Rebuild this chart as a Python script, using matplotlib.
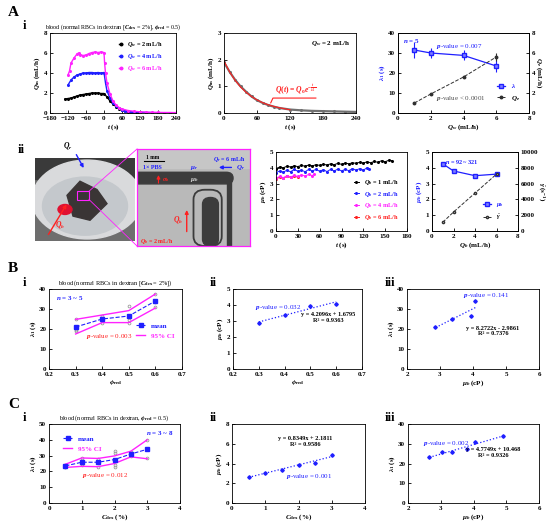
import numpy as np
import matplotlib
matplotlib.use('Agg')
import matplotlib.pyplot as plt
from matplotlib.patches import Ellipse, Rectangle, FancyBboxPatch, Polygon
from matplotlib.lines import Line2D

plt.rcParams['font.family'] = ['Liberation Serif', 'DejaVu Serif']
plt.rcParams['font.weight'] = 'bold'
plt.rcParams['font.size'] = 5
plt.rcParams['axes.linewidth'] = 0.6
plt.rcParams['axes.labelweight'] = 'bold'
plt.rcParams['xtick.direction'] = 'in'
plt.rcParams['ytick.direction'] = 'in'
plt.rcParams['xtick.major.size'] = 2
plt.rcParams['ytick.major.size'] = 2
plt.rcParams['xtick.major.width'] = 0.6
plt.rcParams['ytick.major.width'] = 0.6
plt.rcParams['xtick.major.pad'] = 2
plt.rcParams['ytick.major.pad'] = 2
plt.rcParams['axes.labelpad'] = 1
plt.rcParams['mathtext.fontset'] = 'custom'
plt.rcParams['mathtext.rm'] = 'Liberation Serif:bold'
plt.rcParams['mathtext.it'] = 'Liberation Serif:bold:italic'
plt.rcParams['mathtext.bf'] = 'Liberation Serif:bold'

BLUE = '#1f1fff'
MAG = '#ff22ff'
RED = '#ff2020'
GREY = '#9a9a9a'

# ---- A-i : inlet flow vs time
t_q2 = [-130, -120, -110, -100, -90, -80, -70, -60, -50, -40, -30, -20, -10, 0,
        10, 20, 30, 40, 50, 60, 70, 80, 90, 100, 110, 120]
q_q2 = [1.4, 1.45, 1.5, 1.6, 1.7, 1.8, 1.85, 1.9, 1.95, 2.0, 2.0, 2.0, 1.95, 1.95,
        1.6, 1.2, 0.9, 0.65, 0.45, 0.32, 0.22, 0.15, 0.1, 0.06, 0.04, 0.03]
t_q4 = [-120, -110, -100, -90, -80, -70, -60, -50, -40, -30, -20, -10, 0, 5,
        10, 20, 30, 40, 50, 60, 70, 80, 90, 100, 120, 140, 160, 180]
q_q4 = [2.8, 3.3, 3.6, 3.8, 3.9, 4.0, 4.0, 4.05, 4.05, 4.0, 4.05, 4.0, 4.05, 3.0,
        2.2, 1.5, 1.0, 0.7, 0.5, 0.35, 0.25, 0.18, 0.13, 0.1, 0.07, 0.05, 0.04, 0.03]
t_q6 = [-120, -115, -110, -100, -90, -85, -80, -70, -60, -50, -40, -30, -20, -10, 0,
        2, 5, 10, 20, 30, 40, 50, 60, 80, 100, 120, 140, 160, 180, 200, 220, 240]
q_q6 = [3.8, 4.2, 5.0, 5.5, 5.9, 6.0, 5.85, 5.75, 5.8, 5.95, 6.05, 6.1, 6.05, 6.1, 6.05,
        5.0, 4.0, 3.0, 1.9, 1.2, 0.8, 0.55, 0.4, 0.25, 0.17, 0.12, 0.09, 0.07, 0.06, 0.05, 0.05, 0.04]

t_dec = [0, 10, 20, 30, 40, 50, 60, 70, 80, 90, 100, 120, 140, 160, 180, 200, 220, 240]
q_dec = [1.9, 1.55, 1.25, 1.0, 0.8, 0.62, 0.48, 0.38, 0.3, 0.24, 0.19, 0.13, 0.1, 0.08, 0.07, 0.06, 0.05, 0.04]
t_fit = [0, 10, 20, 30, 40, 50, 60, 70, 80, 90, 100, 110, 120]
q_fit = [1.95, 1.55, 1.23, 0.98, 0.78, 0.62, 0.49, 0.39, 0.31, 0.25, 0.2, 0.16, 0.12]

qw = [1, 2, 4, 6]
lam_qw = [31.5, 30.0, 28.8, 23.5]
lam_qw_err = [4.0, 2.5, 2.5, 3.0]
qe = [1.0, 1.9, 3.6, 5.6]
qe_err = [0.05, 0.1, 0.1, 0.4]

# ---- A-ii : blood viscosity vs time
t_b1 = list(range(0, 161, 5))
mu_b1 = [3.95, 4.05, 4.0, 4.1, 4.05, 4.12, 4.08, 4.15, 4.1, 4.18, 4.12, 4.2, 4.15, 4.22, 4.18, 4.25, 4.2,
         4.28, 4.22, 4.3, 4.25, 4.32, 4.28, 4.35, 4.3, 4.38, 4.32, 4.4, 4.35, 4.45, 4.38, 4.48, 4.45]
t_b2 = list(range(0, 126, 5)) + [128]
mu_b2 = [3.7, 3.8, 3.72, 3.85, 3.75, 3.9, 3.78, 3.85, 3.75, 3.9, 3.8, 3.9, 3.78, 3.88, 3.76, 3.9,
         3.8, 3.92, 3.8, 3.9, 3.82, 3.95, 3.85, 3.95, 3.85, 4.0, 3.95]
t_b4 = [0, 5, 10, 15, 20, 25, 30, 35, 40, 45, 50, 52]
mu_b4 = [3.35, 3.45, 3.38, 3.5, 3.42, 3.52, 3.45, 3.55, 3.48, 3.58, 3.5, 3.6]
t_b6 = [0, 5, 10, 15, 20, 25, 30]
mu_b6 = [3.3, 3.4, 3.35, 3.45, 3.4, 3.45, 3.42]

qb = [1, 2, 4, 6]
mu_qb = [4.25, 3.8, 3.5, 3.6]
shear_qb = [1100, 2400, 4800, 7200]

# ---- B : hematocrit series
phi = [0.3, 0.4, 0.5, 0.6]
lam_phi = [21.0, 25.0, 26.5, 34.0]
lam_phi_hi = [24.8, 27.0, 29.2, 37.5]
lam_phi_lo = [17.5, 23.2, 23.2, 30.5]
phi_raw = [0.3, 0.3, 0.3, 0.4, 0.4, 0.4, 0.5, 0.5, 0.5, 0.6, 0.6, 0.6]
lam_phi_raw = [24.8, 19.0, 19.5, 23.2, 25.5, 26.5, 31.5, 24.5, 23.2, 37.5, 30.8, 33.5]
mu_phi = [2.85, 3.35, 3.95, 4.07]
fit_phi_x = [0.3, 0.6]
fit_phi_y = [2.94, 4.20]
fit_mu_x = [2.87, 4.07]
fit_mu_y = [20.75, 30.7]

# ---- C : dextran series
cdex = [0.5, 1.0, 1.5, 2.0, 2.5, 3.0]
lam_c = [23.5, 25.8, 25.8, 27.5, 31.0, 34.0]
lam_c_hi = [24.5, 28.5, 28.2, 29.8, 32.8, 40.0]
lam_c_lo = [22.5, 23.2, 23.0, 25.0, 29.2, 28.0]
c_raw = [0.5, 0.5, 0.5, 1, 1, 1, 1.5, 1.5, 1.5, 2, 2, 2, 2, 2, 2.5, 2.5, 2.5, 3, 3]
lam_c_raw = [23, 24, 22.5, 28.5, 24, 25, 23, 26, 28, 33, 31.5, 23, 24, 27, 32, 30, 31, 40, 28.5]
mu_c = [2.65, 3.05, 3.35, 3.8, 4.05, 4.9]
fit_c_x = [0.5, 3.0]
fit_c_y = [2.6, 4.7]
fit_muc_x = [2.65, 4.9]
fit_muc_y = [23.1, 33.9]

W, H = 550, 526
fig = plt.figure(figsize=(W / 100, H / 100), dpi=100)


def add(x0, y0, x1, y1):
    return fig.add_axes([x0 / W, 1 - y1 / H, (x1 - x0) / W, (y1 - y0) / H])


def ftext(x, y, s, size=9):
    fig.text(x / W, 1 - y / H, s, fontsize=size, fontweight='bold', va='top', ha='left')


ftext(8, 6, 'A', 11)
ftext(8, 262, 'B', 11)
ftext(8, 398, 'C', 11)
for x, y, s in [(23, 20, 'i'), (18, 144, 'ii'), (23, 277, 'i'), (210, 277, 'ii'), (385, 277, 'iii'),
                (23, 412, 'i'), (210, 412, 'ii'), (385, 412, 'iii')]:
    ftext(x, y, s, 9)

# A-i-1
ax = add(50, 33, 176, 113)
ax.plot(t_q2, q_q2, '-o', color='k', lw=1.0, ms=1.2, label=r'$Q_w$ = 2 mL/h')
ax.plot(t_q4, q_q4, '-o', color=BLUE, lw=1.0, ms=1.2, label=r'$Q_w$ = 4 mL/h')
ax.plot(t_q6, q_q6, '-o', color=MAG, lw=1.0, ms=1.2, label=r'$Q_w$ = 6 mL/h')
ax.set_xlim(-180, 240)
ax.set_xticks(range(-180, 241, 60))
ax.set_ylim(0, 8)
ax.set_yticks([0, 2, 4, 6, 8])
ax.set_xlabel(r'$t$ (s)')
ax.set_ylabel(r'$Q_{\rm in}$ (mL/h)')
ax.set_title(r'blood (normal RBCs in dextran [$C_{\rm dex}$ = 2%], $\phi_{\rm red}$ = 0.5)', fontsize=4.3, pad=3)
ax.legend(loc='upper left', bbox_to_anchor=(0.52, 0.95), frameon=False, fontsize=4.5,
          handlelength=0.6, markerscale=1.5, labelcolor=['k', BLUE, MAG], borderpad=0, labelspacing=0.5)

# A-i-2
ax = add(224, 33, 356, 113)
ax.plot(t_dec, q_dec, '-o', color='#707070', lw=1.6, ms=1.2)
ax.plot(t_fit, q_fit, '-', color=RED, lw=0.8)
ax.set_xlim(0, 240)
ax.set_xticks(range(0, 241, 60))
ax.set_ylim(0, 3)
ax.set_yticks([0, 1, 2, 3])
ax.set_xlabel(r'$t$ (s)')
ax.set_ylabel(r'$Q_{\rm in}$ (mL/h)')
ax.text(0.96, 0.93, r'$Q_w$ = 2 mL/h', transform=ax.transAxes, ha='right', va='top', fontsize=5)
ax.plot([85, 89, 167], [0.38, 0.56, 0.56], color=RED, lw=0.8)
ax.text(92, 0.62, r'$Q(t)$ = $Q_0e^{-\frac{t}{\lambda_1}}$', color=RED, fontsize=5.5, va='bottom')

# A-i-3
ax = add(398, 33, 529, 113)
ax2 = ax.twinx()
ax.errorbar(qw, lam_qw, yerr=lam_qw_err, color=BLUE, marker='s', ms=2.5, mfc='#8080ff', lw=0.9,
            capsize=0, elinewidth=0.8)
ax2.errorbar(qw, qe, yerr=qe_err, color='#303030', marker='o', ms=1.8, ls='--', lw=0.7,
             capsize=0, elinewidth=0.8)
ax.set_xlim(0, 8)
ax.set_xticks([0, 2, 4, 6, 8])
ax.set_ylim(0, 40)
ax.set_yticks(range(0, 41, 10))
ax2.set_ylim(0, 8)
ax2.set_yticks([0, 2, 4, 6, 8])
ax.set_xlabel(r'$Q_w$ (mL/h)')
ax.set_ylabel(r'$\lambda_1$ (s)', color=BLUE)
ax2.set_ylabel(r'$Q_e$ (mL/h)', rotation=270, labelpad=6)
ax.text(0.04, 0.95, r'$n$ = 5', transform=ax.transAxes, color=BLUE, va='top', fontsize=5)
ax.text(2.3, 32.5, r'$p$-value = 0.007', color=BLUE, fontsize=5, fontweight='normal')
ax.text(2.3, 6.5, r'$p$-value < 0.0001', color='#505050', fontsize=5, fontweight='normal')
hl = [Line2D([], [], color=BLUE, marker='s', ms=2.5, mfc='#8080ff', lw=0.9),
      Line2D([], [], color='#303030', marker='o', ms=1.8, ls='--', lw=0.7)]
ax.legend(hl, [r'$\lambda$', r'$Q_e$'], loc='lower right', bbox_to_anchor=(0.98, 0.05), frameon=False,
          fontsize=5, handlelength=1.2, labelcolor=[BLUE, 'k'])

# A-ii photo 1 (petri dish sketch)
ph = add(35, 158, 135, 241)
ph.set_xlim(0, 1)
ph.set_ylim(0, 1)
ph.set_xticks([])
ph.set_yticks([])
ph.set_facecolor('#6e6e6e')
for s in ph.spines.values():
    s.set_visible(False)
ph.add_patch(Rectangle((0, 0.75), 1, 0.25, color='#3a3a3a'))
ph.add_patch(Ellipse((0.52, 0.5), 1.1, 0.95, color='#d9dadc'))
ph.add_patch(Ellipse((0.5, 0.42), 0.85, 0.7, color='#c4c8cc'))
ph.add_patch(Polygon([[0.32, 0.55], [0.45, 0.72], [0.62, 0.62], [0.72, 0.45], [0.55, 0.25], [0.38, 0.3]],
                     color='#3a3535'))
ph.add_patch(Ellipse((0.3, 0.38), 0.14, 0.12, color='#e01030'))
ph.add_patch(Rectangle((0.42, 0.5), 0.12, 0.1, fill=False, ec=MAG, lw=0.8))
ph.annotate('', xy=(0.5, 0.85), xytext=(0.4, 1.07), arrowprops=dict(arrowstyle='-|>', color=BLUE, lw=1.0),
            annotation_clip=False)
ph.text(0.38, 1.08, r'$Q_r$', fontsize=5.5, ha='right', va='bottom', clip_on=False)
ph.annotate('', xy=(0.33, 0.47), xytext=(0.12, 0.05), arrowprops=dict(arrowstyle='-|>', color=RED, lw=1.0))
ph.text(0.2, 0.17, r'$Q_b$', fontsize=5.5, color=RED)

# A-ii photo 2 (magnified channel sketch)
mg = add(137, 149, 250, 246)
mg.set_xlim(0, 1)
mg.set_ylim(0, 1)
mg.set_xticks([])
mg.set_yticks([])
mg.set_facecolor('#b9b9b9')
for s in mg.spines.values():
    s.set_color(MAG)
    s.set_linestyle((0, (1.5, 1)))
    s.set_linewidth(0.9)
mg.add_patch(Rectangle((0, 0.8), 1, 0.2, color='#c6c6c6'))
mg.add_patch(FancyBboxPatch((-0.1, 0.64), 0.95, 0.12, boxstyle='round,pad=0,rounding_size=0.06',
                            color='#3c3c3c'))
mg.add_patch(Rectangle((0.8, 0.0), 0.03, 0.7, color='#3c3c3c'))
mg.add_patch(FancyBboxPatch((0.58, 0.0), 0.14, 0.5, boxstyle='round,pad=0,rounding_size=0.07',
                            color='#3c3c3c'))
mg.add_patch(FancyBboxPatch((0.5, 0.0), 0.25, 0.58, boxstyle='round,pad=0,rounding_size=0.1',
                            fill=False, ec='#3c3c3c', lw=1.3))
mg.plot([0.06, 0.24], [0.88, 0.88], color='k', lw=0.8)
mg.text(0.08, 0.9, '1 mm', fontsize=4)
mg.text(0.96, 0.94, r'$Q_r$ = 6 mL/h', color=BLUE, fontsize=4.3, ha='right', va='top')
mg.text(0.05, 0.79, '1× PBS', color=BLUE, fontsize=4.3)
mg.text(0.47, 0.79, r'$\mu_r$', color=BLUE, fontsize=5)
mg.annotate('', xy=(0.7, 0.81), xytext=(0.86, 0.81), arrowprops=dict(arrowstyle='-|>', color=BLUE, lw=1.0))
mg.text(0.88, 0.79, r'$Q_r$', color=BLUE, fontsize=5)
mg.text(0.47, 0.67, r'$\mu_b$', color='#dddddd', fontsize=5)
mg.annotate('', xy=(0.19, 0.76), xytext=(0.19, 0.62), arrowprops=dict(arrowstyle='-|>', color=RED, lw=0.8))
mg.text(0.22, 0.67, r'$\sigma_b$', color=RED, fontsize=4.5)
mg.annotate('', xy=(0.44, 0.4), xytext=(0.44, 0.12), arrowprops=dict(arrowstyle='-|>', color=RED, lw=1.0))
mg.text(0.32, 0.25, r'$Q_b$', color=RED, fontsize=5.5)
mg.text(0.03, 0.03, r'$Q_b$ = 2 mL/h', color=RED, fontsize=4.3)
for p0, p1 in [((0.54, 0.6), (0.0, 1.0)), ((0.54, 0.5), (0.0, 0.0))]:
    fa = ph.transAxes.transform(p0)
    fb = mg.transAxes.transform(p1)
    inv = fig.transFigure.inverted()
    a, b = inv.transform(fa), inv.transform(fb)
    fig.add_artist(Line2D([a[0], b[0]], [a[1], b[1]], color=MAG, lw=0.6))

# A-ii-1
ax = add(276, 152, 407, 231)
ax.plot(t_b1, mu_b1, '-o', color='k', lw=0.7, ms=1.2, label=r'$Q_b$ = 1 mL/h')
ax.plot(t_b2, mu_b2, '-o', color=BLUE, lw=0.7, ms=1.2, label=r'$Q_b$ = 2 mL/h')
ax.plot(t_b6, mu_b6, '-o', color=RED, lw=0.7, ms=1.2, label=r'$Q_b$ = 6 mL/h')
ax.plot(t_b4, mu_b4, '-o', color=MAG, lw=0.7, ms=1.2, label=r'$Q_b$ = 4 mL/h')
ax.set_xlim(0, 180)
ax.set_xticks(range(0, 181, 30))
ax.set_ylim(0, 5)
ax.set_yticks(range(0, 6))
ax.set_xlabel(r'$t$ (s)')
ax.set_ylabel(r'$\mu_b$ (cP)')
h, l = ax.get_legend_handles_labels()
order = [0, 1, 3, 2]
ax.legend([h[i] for i in order], [l[i] for i in order], loc='lower right', bbox_to_anchor=(0.98, 0.04),
          frameon=False, fontsize=4.5, handlelength=0.8, labelcolor=['k', BLUE, MAG, RED], labelspacing=0.45)

# A-ii-2
ax = add(432, 152, 518, 231)
ax2 = ax.twinx()
ax.plot(qb, mu_qb, '-s', color=BLUE, lw=0.9, ms=2.5, mfc='#8080ff')
ax2.plot(qb, shear_qb, '--o', color='#303030', lw=0.7, ms=1.6, mfc='white')
ax.set_xlim(0, 8)
ax.set_xticks([0, 2, 4, 6, 8])
ax.set_ylim(0, 5)
ax.set_yticks(range(0, 6))
ax2.set_ylim(0, 10000)
ax2.set_yticks(range(0, 10001, 2000))
ax.set_xlabel(r'$Q_b$ (mL/h)')
ax.set_ylabel(r'$\mu_b$ (cP)', color=BLUE)
ax2.set_ylabel(r'$\dot{\gamma}$ (s$^{-1}$)', rotation=270, labelpad=6)
ax.text(0.15, 0.93, r'$n$ = 92 ~ 321', transform=ax.transAxes, color=BLUE, va='top', fontsize=4.5)
hl = [Line2D([], [], color=BLUE, marker='s', ms=2.5, mfc='#8080ff', lw=0.9),
      Line2D([], [], color='#303030', marker='o', ms=1.6, ls='--', lw=0.7, mfc='white')]
ax.legend(hl, [r'$\mu_b$', r'$\dot{\gamma}$'], loc='lower right', bbox_to_anchor=(0.9, 0.04), frameon=False,
          fontsize=4.5, handlelength=1.2, labelcolor=[BLUE, 'k'])


def ci_panel(ax, x, m, hi, lo, xr, yr, legloc):
    ax.plot(xr, yr, 'o', ms=2, mfc='none', mec=GREY, mew=0.6)
    ax.plot(x, hi, '-', color=MAG, lw=1.0)
    ax.plot(x, lo, '-', color=MAG, lw=1.0)
    ax.plot(x, m, '--s', color=BLUE, lw=0.8, ms=2.3)
    hl = [Line2D([], [], color=BLUE, ls='--', marker='s', ms=2.3, lw=0.8),
          Line2D([], [], color=MAG, lw=1.0)]
    ax.legend(hl, ['mean', '95% CI'], frameon=False, fontsize=5, handlelength=1.3,
              labelcolor=[BLUE, MAG], labelspacing=0.6, **legloc)


def fit_panel(ax, x, y, fx, fy):
    ax.plot(x, y, 'D', color=BLUE, ms=1.8)
    ax.plot(fx, fy, ':', color=BLUE, lw=0.9)


# B-i
ax = add(49, 289, 182, 369)
ci_panel(ax, phi, lam_phi, lam_phi_hi, lam_phi_lo, phi_raw, lam_phi_raw,
         dict(loc='lower right', bbox_to_anchor=(0.99, 0.3)))
ax.set_xlim(0.2, 0.7)
ax.set_xticks([0.2, 0.3, 0.4, 0.5, 0.6, 0.7])
ax.set_ylim(0, 40)
ax.set_yticks(range(0, 41, 10))
ax.set_xlabel(r'$\phi_{\rm red}$')
ax.set_ylabel(r'$\lambda_1$ (s)')
ax.set_title(r'blood (normal RBCs in dextran [$C_{\rm dex}$ = 2%])', fontsize=4.5, pad=3)
ax.text(0.05, 0.94, r'$n$ = 3 ~ 5', transform=ax.transAxes, color=BLUE, va='top', fontsize=5)
ax.text(0.34, 15.5, r'$p$-value = 0.003', color=RED, fontsize=5, fontweight='normal')

# B-ii
ax = add(233, 289, 362, 369)
fit_panel(ax, phi, mu_phi, fit_phi_x, fit_phi_y)
ax.set_xlim(0.2, 0.7)
ax.set_xticks([0.2, 0.3, 0.4, 0.5, 0.6, 0.7])
ax.set_ylim(0, 5)
ax.set_yticks(range(0, 6))
ax.set_xlabel(r'$\phi_{\rm red}$')
ax.set_ylabel(r'$\mu_b$ (cP)')
ax.text(0.285, 3.75, r'$p$-value = 0.032', color=BLUE, fontsize=5, fontweight='normal')
ax.text(0.57, 3.2, 'y = 4.2096x + 1.6795\nR² = 0.9363', fontsize=4.5, ha='center', va='center',
        linespacing=1.2)

# B-iii
ax = add(407, 289, 539, 369)
fit_panel(ax, mu_phi, lam_phi, fit_mu_x, fit_mu_y)
ax.set_xlim(2, 6)
ax.set_xticks(range(2, 7))
ax.set_ylim(0, 40)
ax.set_yticks(range(0, 41, 10))
ax.set_xlabel(r'$\mu_b$ (cP)')
ax.set_ylabel(r'$\lambda_1$ (s)')
ax.text(3.7, 36, r'$p$-value = 0.141', color=BLUE, fontsize=5, fontweight='normal')
ax.text(4.6, 19, 'y = 8.2722x - 2.9861\nR² = 0.7376', fontsize=4.5, ha='center', va='center',
        linespacing=1.2)

# C-i
ax = add(49, 424, 180, 503)
ci_panel(ax, cdex, lam_c, lam_c_hi, lam_c_lo, c_raw, lam_c_raw,
         dict(loc='upper left', bbox_to_anchor=(0.06, 0.93)))
ax.set_xlim(0, 4)
ax.set_xticks(range(0, 5))
ax.set_ylim(0, 50)
ax.set_yticks(range(0, 51, 10))
ax.set_xlabel(r'$C_{\rm dex}$ (%)')
ax.set_ylabel(r'$\lambda_1$ (s)')
ax.set_title(r'blood (normal RBCs in dextran, $\phi_{\rm red}$ = 0.5)', fontsize=4.5, pad=3,
             fontweight='normal')
ax.text(0.95, 0.94, r'$n$ = 3 ~ 8', transform=ax.transAxes, color=BLUE, va='top', ha='right', fontsize=5)
ax.text(1.0, 16.5, r'$p$-value = 0.012', color=RED, fontsize=5, fontweight='normal')

# C-ii
ax = add(232, 424, 365, 503)
fit_panel(ax, cdex, mu_c, fit_c_x, fit_c_y)
ax.set_xlim(0, 4)
ax.set_xticks(range(0, 5))
ax.set_ylim(0, 8)
ax.set_yticks(range(0, 9, 2))
ax.set_xlabel(r'$C_{\rm dex}$ (%)')
ax.set_ylabel(r'$\mu_b$ (cP)')
ax.text(1.62, 2.5, r'$p$-value = 0.001', color=BLUE, fontsize=5, fontweight='normal')
ax.text(2.2, 6.2, 'y = 0.8349x + 2.1811\nR² = 0.9586', fontsize=4.5, ha='center', va='center',
        linespacing=1.2)

# C-iii
ax = add(408, 424, 539, 503)
fit_panel(ax, mu_c, lam_c, fit_muc_x, fit_muc_y)
ax.set_xlim(2, 6)
ax.set_xticks(range(2, 7))
ax.set_ylim(0, 40)
ax.set_yticks(range(0, 41, 10))
ax.set_xlabel(r'$\mu_b$ (cP)')
ax.set_ylabel(r'$\lambda_1$ (s)')
ax.text(2.45, 29.5, r'$p$-value = 0.002', color=BLUE, fontsize=5, fontweight='normal')
ax.text(4.6, 25.5, 'y = 4.7749x + 10.468\nR² = 0.9326', fontsize=4.5, ha='center', va='center',
        linespacing=1.2)

fig.savefig('out.png', dpi=100)
